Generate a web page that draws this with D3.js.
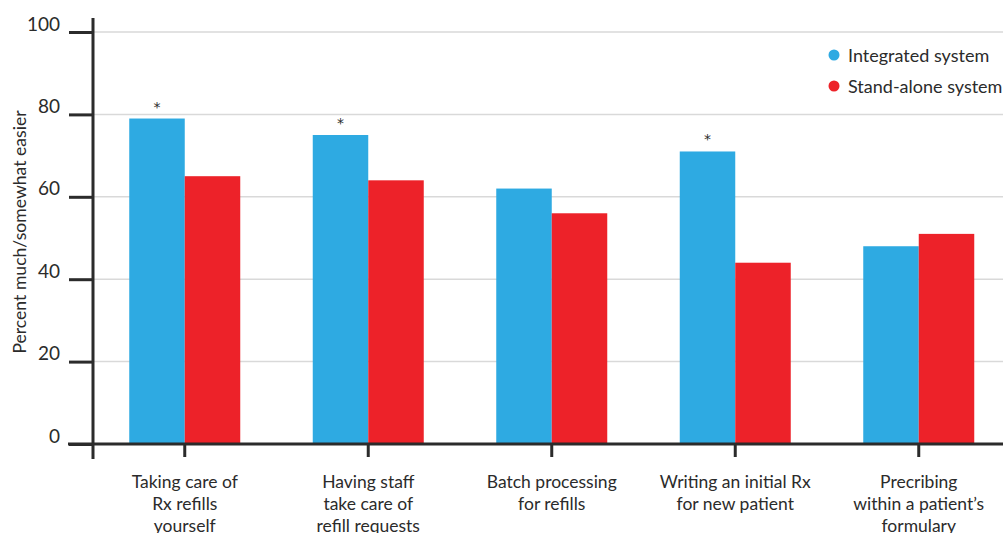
<!DOCTYPE html>
<html><head><meta charset="utf-8">
<script src="https://cdn.jsdelivr.net/npm/d3@7"></script>
<style>body{margin:0;background:#fff}svg{display:block}text{font-family:Lato,"Open Sans",sans-serif;fill:#2b2b2b}</style>
</head><body><svg id="c" width="1003" height="533"></svg>
<script>
const categories = [
  ["Taking care of","Rx refills","yourself"],
  ["Having staff","take care of","refill requests"],
  ["Batch processing","for refills"],
  ["Writing an initial Rx","for new patient"],
  ["Precribing","within a patient’s","formulary"]
];
const seriesNames = ["Integrated system","Stand-alone system"];
const integrated = [79, 75, 62, 71, 48];
const standalone = [65, 64, 56, 44, 51];
const significant = [true, true, false, true, false];
const yTicks = [0, 20, 40, 60, 80, 100];
const colors = ["#2eaae2", "#ed2229"];

const svg = d3.select("#c");
const x0 = 93, yBase = 444;
const x = d3.scaleBand().domain(d3.range(categories.length)).range([x0, x0 + 5*183.5]);
const y = d3.scaleLinear().domain([0,100]).range([yBase, 32]);
const xs = d3.scaleBand().domain([0,1]).range([-55.5, 55.5]);
const series = [integrated, standalone];

// gridlines
svg.append("g").selectAll("line").data(yTicks.filter(d=>d>0)).join("line")
  .attr("x1", x0).attr("x2", 1003).attr("y1", d=>y(d)).attr("y2", d=>y(d))
  .attr("stroke", "#d9d9d9").attr("stroke-width", 1.5);

// bars
const groups = svg.append("g").selectAll("g").data(categories).join("g")
  .attr("transform", (d,i)=>`translate(${x(i)+x.bandwidth()/2},0)`);
groups.selectAll("rect").data((d,i)=>series.map((s,k)=>({k, v:s[i]}))).join("rect")
  .attr("x", d=>xs(d.k)).attr("width", xs.bandwidth())
  .attr("y", d=>y(d.v)).attr("height", d=>yBase - y(d.v))
  .attr("fill", d=>colors[d.k]);
// asterisks
groups.filter((d,i)=>significant[i]).append("text")
  .attr("x", xs(0)+xs.bandwidth()/2)
  .attr("y", d=>y(integrated[categories.indexOf(d)]) - 7)
  .attr("text-anchor","middle").attr("font-size",14)
  .style("font-family","'DejaVu Sans',sans-serif").text("*");

// y axis
const yAxis = d3.axisLeft(y).tickValues(yTicks).tickSize(24).tickPadding(0).tickFormat(d=>d);
const ya = svg.append("g").attr("transform",`translate(${x0},0)`).call(yAxis);
ya.select(".domain").remove();
ya.selectAll(".tick line").attr("stroke","#2b2b2b").attr("stroke-width",3);
ya.selectAll(".tick text").attr("x",-33).attr("dy","-2").attr("font-size",19)
  .attr("font-family","Lato,'Open Sans',sans-serif").attr("fill","#2b2b2b");
svg.append("line").attr("x1",x0).attr("x2",x0).attr("y1",18).attr("y2",459)
  .attr("stroke","#2b2b2b").attr("stroke-width",3);

// x axis
const xAxis = d3.axisBottom(x).tickSize(13).tickFormat("");
const xa = svg.append("g").attr("transform",`translate(0,${yBase})`).call(xAxis);
xa.select(".domain").remove();
xa.selectAll(".tick line").attr("stroke","#2b2b2b").attr("stroke-width",3);
svg.append("line").attr("x1",68).attr("x2",1003).attr("y1",yBase).attr("y2",yBase)
  .attr("stroke","#2b2b2b").attr("stroke-width",3);

// category labels
svg.append("g").selectAll("text").data(categories).join("text")
  .attr("text-anchor","middle").attr("font-size",17.5)
  .attr("transform",(d,i)=>`translate(${x(i)+x.bandwidth()/2},488)`)
  .selectAll("tspan").data(d=>d).join("tspan")
  .attr("x",0).attr("y",(d,j)=>j*22).text(d=>d);

// y title
svg.append("text").attr("transform","translate(26,232) rotate(-90)")
  .attr("text-anchor","middle").attr("font-size",17.6).text("Percent much/somewhat easier");

// legend
const lg = svg.append("g").selectAll("g").data(seriesNames).join("g")
  .attr("transform",(d,i)=>`translate(834,${55+i*31})`);
lg.append("circle").attr("r",5.5).attr("fill",(d,i)=>colors[i]);
lg.append("text").attr("x",14).attr("y",7).attr("font-size",18).text(d=>d);
</script></body></html>
